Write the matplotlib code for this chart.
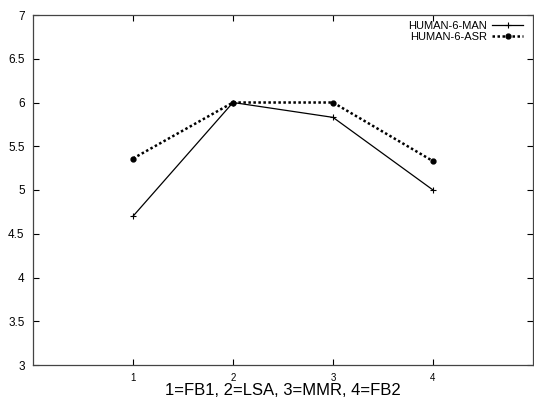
import matplotlib.pyplot as plt
import numpy as np

plt.rcParams['font.family'] = ['Liberation Sans', 'DejaVu Sans']

# conditions: 1=FB1, 2=LSA, 3=MMR, 4=FB2
x = [1, 2, 3, 4]
man = [4.70, 6.00, 5.83, 5.00]
asr = [5.36, 6.00, 6.00, 5.33]

xticks = [1, 2, 3, 4]
yticks = [3, 3.5, 4, 4.5, 5, 5.5, 6, 6.5, 7]

fig = plt.figure(figsize=(5.34, 4.03), dpi=100)
ax = fig.add_axes([33/534, 1-365/403, 500/534, 350/403])

ax.plot(x, man, '-', color='black', lw=0.9, marker='+', ms=4, mew=0.8,
        label='HUMAN-6-MAN')
ax.plot(x, asr, color='black', lw=1.8, dashes=(1, 1), marker='o', ms=3.5,
        label='HUMAN-6-ASR')

ax.set_xlim(0, 5)
ax.set_ylim(3, 7)
ax.set_xticks(xticks)
ax.set_yticks(yticks)
ax.set_yticklabels([('%g' % v) for v in yticks])
ax.tick_params(direction='in', length=4, width=0.8, top=True, right=True,
               color='black')
ax.tick_params(axis='y', labelsize=8.5, pad=6)
ax.tick_params(axis='x', labelsize=7, pad=6)
for s in ax.spines.values():
    s.set_color('#444444')
    s.set_linewidth(0.9)

ax.set_xlabel('1=FB1, 2=LSA, 3=MMR, 4=FB2', fontsize=12, labelpad=0)

ax.legend(loc='upper right', frameon=False, markerfirst=False, fontsize=8,
          handlelength=2.8, handletextpad=0.5, labelspacing=0.1,
          borderaxespad=0.15, bbox_to_anchor=(0.993, 1.0))

plt.savefig('out.png', dpi=100)
